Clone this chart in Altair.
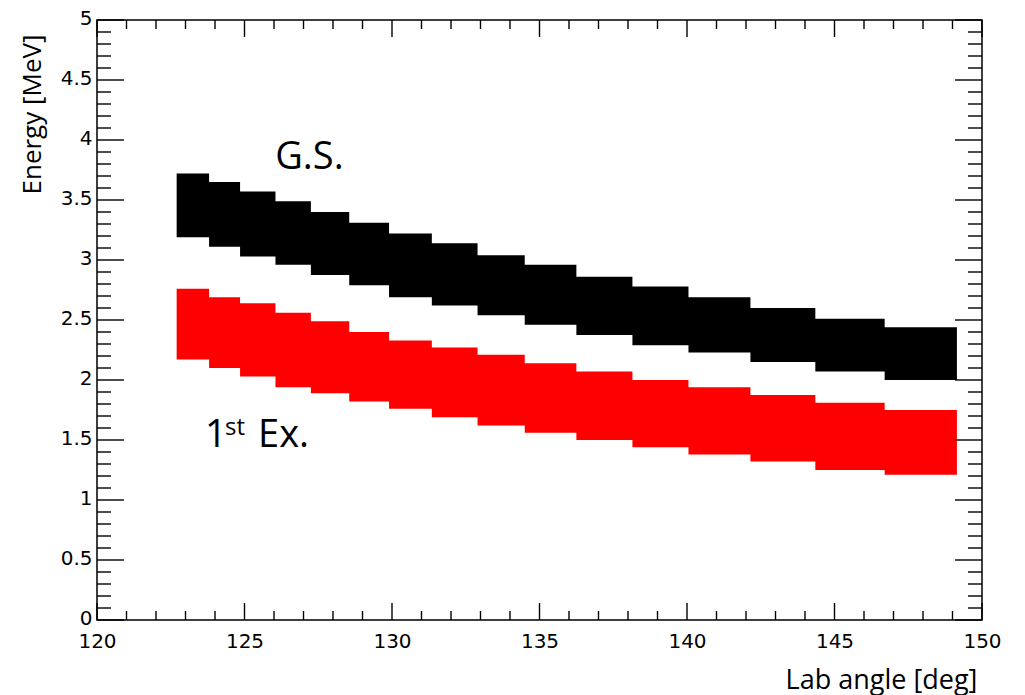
import altair as alt
import pandas as pd

# Angle bin edges (deg) of the stepped bands
angle_edges = [122.7, 123.8, 124.85, 126.05, 127.25, 128.55, 129.9, 131.35, 132.9,
               134.5, 136.25, 138.15, 140.05, 142.15, 144.35, 146.7, 149.15]
# Ground state band (MeV)
gs_high = [3.72, 3.65, 3.57, 3.49, 3.40, 3.31, 3.22, 3.14, 3.04, 2.96, 2.86, 2.78, 2.69, 2.60, 2.51, 2.44]
gs_low = [3.19, 3.11, 3.03, 2.96, 2.875, 2.79, 2.69, 2.62, 2.54, 2.46, 2.375, 2.29, 2.23, 2.15, 2.07, 2.00]
# First excited state band (MeV)
ex_high = [2.76, 2.69, 2.64, 2.56, 2.49, 2.40, 2.33, 2.27, 2.21, 2.14, 2.07, 2.00, 1.94, 1.875, 1.81, 1.75]
ex_low = [2.17, 2.10, 2.03, 1.94, 1.89, 1.82, 1.76, 1.69, 1.62, 1.56, 1.50, 1.44, 1.38, 1.32, 1.25, 1.21]

band_names = ["G.S.", "1st Ex."]
band_colors = ["#000000", "#ff0000"]

# Axis ticks
x_major = [120, 125, 130, 135, 140, 145, 150]
x_minor = [v for v in range(121, 150) if v % 5 != 0]
y_major = [0, 0.5, 1, 1.5, 2, 2.5, 3, 3.5, 4, 4.5, 5]
y_minor = [round(i * 0.1, 1) for i in range(1, 50) if i % 5 != 0]

# Annotations (data units)
ann_main_text = ["G.S.", "1", "Ex."]
ann_main_x = [126.04, 123.66, 125.46]
ann_main_y = [3.76, 1.444, 1.444]
ann_sup_text = ["st"]
ann_sup_x = [124.34]
ann_sup_y = [1.54]

# Step-area table: each edge carries the value of the bin starting there
# (the closing edge repeats the last bin's value)
rows = []
nb = len(angle_edges) - 1
for name, lo_arr, hi_arr in [(band_names[0], gs_low, gs_high), (band_names[1], ex_low, ex_high)]:
    for i, e in enumerate(angle_edges):
        k = min(i, nb - 1)
        rows.append({"x": e, "lo": lo_arr[k], "hi": hi_arr[k], "band": name})
bands = pd.DataFrame(rows)

W, H = 885, 600

xscale = alt.Scale(domain=[120, 150], nice=False, zero=False)
yscale = alt.Scale(domain=[0, 5], nice=False, zero=True)

xaxis = alt.Axis(values=x_major, ticks=False, domain=False, grid=False,
                 labelFont="DejaVu Sans", labelFontSize=20, labelColor="black",
                 labelPadding=11, labelFlush=False, labelOverlap=False,
                 title="Lab angle [deg]", titleFont="Open Sans", titleFontSize=27,
                 titleFontWeight="normal", titleColor="black",
                 titleX=784, titleY=68, titleAlign="center", titleBaseline="alphabetic")
yaxis = alt.Axis(values=y_major, format="~g", ticks=False, domain=False, grid=False,
                 labelFont="DejaVu Sans", labelFontSize=20, labelColor="black",
                 labelPadding=5, labelOffset=-2, labelFlush=False, labelOverlap=False,
                 title="Energy [MeV]", titleFont="Open Sans", titleFontSize=26,
                 titleFontWeight="normal", titleColor="black", titleAngle=270,
                 titleX=-65, titleY=94, titleAlign="center", titleBaseline="middle")


def xenc(f):
    return alt.X(f, type="quantitative", scale=xscale, axis=xaxis)


def yenc(f):
    return alt.Y(f, type="quantitative", scale=yscale, axis=yaxis)


cscale = alt.Scale(domain=band_names, range=band_colors)
areas = alt.Chart(bands).mark_area(interpolate="step-after", opacity=1).encode(
    x=xenc("x"), y=yenc("lo"), y2="hi",
    color=alt.Color("band:N", scale=cscale, legend=None),
    detail="band:N",
)

dxmaj = pd.DataFrame({"t": x_major})
dxmin = pd.DataFrame({"t": x_minor})
dymaj = pd.DataFrame({"t": y_major})
dymin = pd.DataFrame({"t": y_minor})


def xticks(df, y0, y1):
    return alt.Chart(df).mark_rule(color="black", strokeWidth=1.4).encode(
        x=xenc("t"), y=alt.value(y0), y2=alt.value(y1))


def yticks(df, x0, x1):
    return alt.Chart(df).mark_rule(color="black", strokeWidth=1.4).encode(
        y=yenc("t"), x=alt.value(x0), x2=alt.value(x1))


tick_layers = [
    xticks(dxmaj, H, H - 17), xticks(dxmin, H, H - 9),
    xticks(dxmaj, 0, 17), xticks(dxmin, 0, 9),
    yticks(dymaj, 0, 27), yticks(dymin, 0, 14),
    yticks(dymaj, W, W - 27), yticks(dymin, W, W - 14),
]

ann_main = pd.DataFrame({"label": ann_main_text, "x": ann_main_x, "y": ann_main_y})
ann_sup = pd.DataFrame({"label": ann_sup_text, "x": ann_sup_x, "y": ann_sup_y})

txt_main = alt.Chart(ann_main).mark_text(align="left", baseline="alphabetic", font="Open Sans",
                                         fontSize=38, color="black").encode(
    x=xenc("x"), y=yenc("y"), text="label:N")
txt_sup = alt.Chart(ann_sup).mark_text(align="left", baseline="alphabetic", font="Open Sans",
                                       fontSize=24, color="black").encode(
    x=xenc("x"), y=yenc("y"), text="label:N")

chart = alt.layer(areas, *tick_layers, txt_main, txt_sup).properties(
    width=W, height=H,
    autosize=alt.AutoSizeParams(type="none"),
    padding={"left": 97, "top": 20, "right": 43, "bottom": 75},
    background="white",
).configure_view(stroke="black", strokeWidth=1.5)

chart.save("out.html", embed_options={"renderer": "svg", "actions": False})
